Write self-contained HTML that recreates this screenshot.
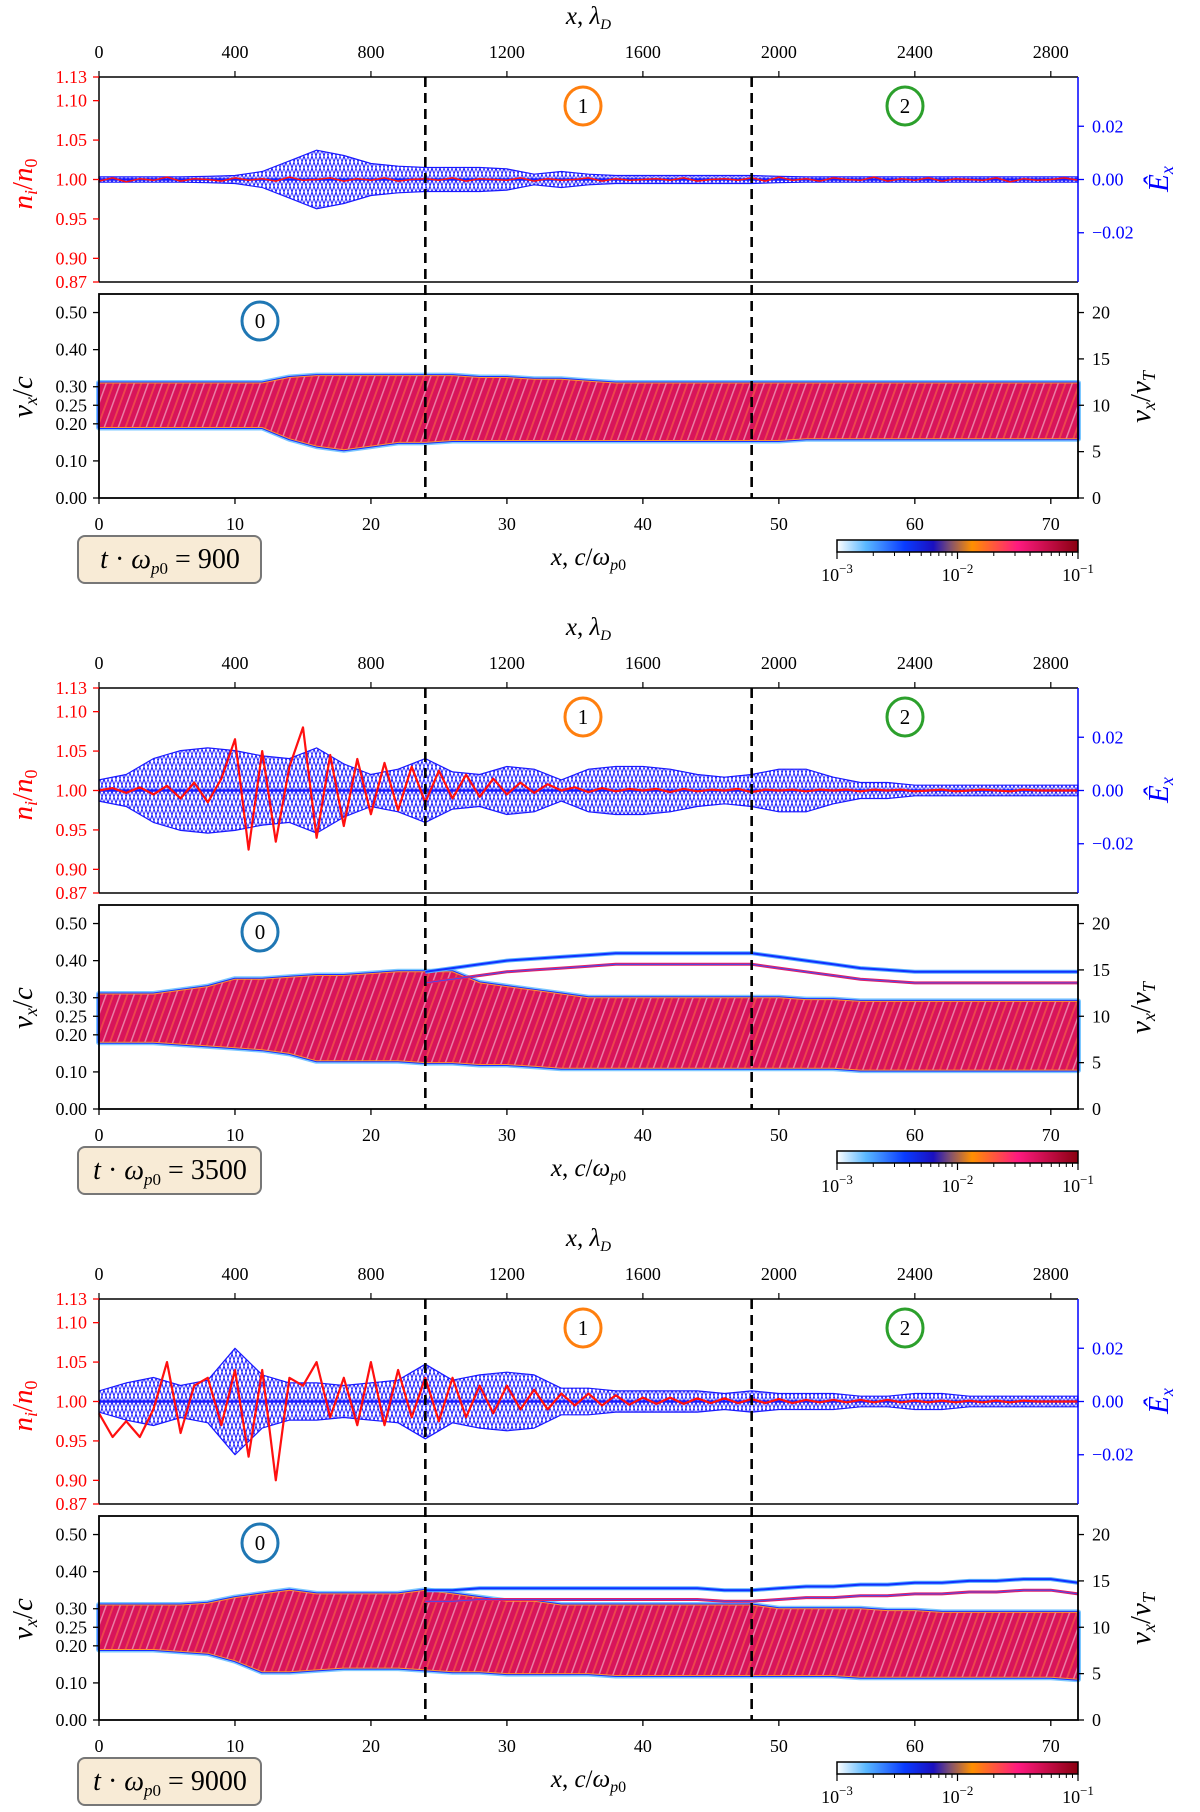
<!DOCTYPE html>
<html><head><meta charset="utf-8">
<style>
html,body{margin:0;padding:0;background:#fff;}
svg{display:block;}
text{font-family:"Liberation Serif",serif;}
</style></head>
<body>
<svg id="fig" width="1200" height="1812" viewBox="0 0 1200 1812" xmlns="http://www.w3.org/2000/svg">
<defs>
<linearGradient id="cmap" x1="0" x2="1" y1="0" y2="0">
<stop offset="0" stop-color="#ffffff"/><stop offset="0.12" stop-color="#5ab8ff"/><stop offset="0.28" stop-color="#0a3cff"/><stop offset="0.4" stop-color="#1a10c0"/><stop offset="0.47" stop-color="#805070"/><stop offset="0.56" stop-color="#ff9000"/><stop offset="0.75" stop-color="#ff1a80"/><stop offset="1" stop-color="#8a0010"/>
</linearGradient>
<pattern id="vort" width="14" height="40" patternUnits="userSpaceOnUse" patternTransform="skewX(-20)">
<rect width="14" height="40" fill="#d8145a"/>
<rect x="0" width="2" height="40" fill="#ff7a40" opacity="0.5"/>
<rect x="7" width="1.6" height="40" fill="#ffffff" opacity="0.45"/>
</pattern>
<pattern id="exfill" width="8" height="12" patternUnits="userSpaceOnUse">
<rect width="8" height="12" fill="#ffffff"/>
<path d="M0,0 L4,12 L8,0" fill="none" stroke="#1a1aff" stroke-width="1"/>
<path d="M0,12 L4,0 L8,12" fill="none" stroke="#1a1aff" stroke-width="0.8"/>
</pattern>
</defs>
</svg>
<script>
// ---------- data ----------
const xSamp = [0,2,4,6,8,10,12,14,16,18,20,22,24,26,28,30,32,34,36,38,40,42,44,46,48,50,52,54,56,58,60,62,64,66,68,70,72];
const xNi = [0,1,2,3,4,5,6,7,8,9,10,11,12,13,14,15,16,17,18,19,20,21,22,23,24,25,26,27,28,29,30,31,32,33,34,35,36,37,38,39,40,41,42,43,44,45,46,47,48,49,50,51,52,53,54,55,56,57,58,59,60,61,62,63,64,65,66,67,68,69,70,71,72];
const times = [900, 3500, 9000];
const xTicksBottom = [0,10,20,30,40,50,60,70];
const xTicksTop = [0,400,800,1200,1600,2000,2400,2800];
const niTicks = [0.87,0.90,0.95,1.00,1.05,1.10,1.13];
const exTicks = [-0.02,0.00,0.02];
const vTicks = [0.00,0.10,0.20,0.25,0.30,0.40,0.50];
const vtTicks = [0,5,10,15,20];
const dashX = [24,48];

const ex1 = [0.001,0.001,0.001,0.001,0.0012,0.0015,0.003,0.007,0.011,0.009,0.006,0.005,0.0045,0.0045,0.0045,0.004,0.002,0.003,0.002,0.0015,0.0015,0.0015,0.0015,0.0015,0.0015,0.0012,0.001,0.001,0.001,0.001,0.001,0.001,0.001,0.001,0.001,0.001,0.001];
const ex2 = [0.004,0.006,0.012,0.015,0.016,0.015,0.013,0.012,0.016,0.01,0.006,0.008,0.012,0.007,0.006,0.009,0.008,0.004,0.008,0.009,0.009,0.008,0.006,0.005,0.006,0.008,0.008,0.005,0.003,0.003,0.002,0.002,0.002,0.002,0.002,0.002,0.002];
const ex3 = [0.004,0.007,0.009,0.006,0.008,0.02,0.01,0.007,0.007,0.006,0.007,0.008,0.014,0.008,0.01,0.011,0.01,0.005,0.005,0.004,0.004,0.004,0.004,0.003,0.004,0.003,0.003,0.003,0.002,0.002,0.003,0.003,0.002,0.002,0.002,0.002,0.002];

const ni1 = [0.998,1.002,0.997,1.001,0.999,1.003,0.998,1.001,1.0,0.998,1.002,0.999,1.001,0.998,1.003,0.999,1.0,1.002,0.998,1.001,0.999,1.002,0.998,1.0,1.001,0.999,1.002,0.998,1.001,1.0,0.999,1.002,0.998,1.001,0.999,1.0,1.002,0.998,1.001,0.999,1.0,1.001,0.999,1.002,0.998,1.0,1.001,0.999,1.002,0.998,1.003,0.999,1.001,0.998,1.002,1.0,0.999,1.003,0.998,1.001,0.999,1.002,0.998,1.001,1.0,0.999,1.002,0.997,1.001,0.999,1.0,1.002,0.999];
const ni2 = [1.0,1.003,0.997,1.004,0.995,1.006,0.99,1.01,0.985,1.015,1.065,0.925,1.05,0.935,1.03,1.08,0.94,1.045,0.955,1.04,0.97,1.035,0.975,1.03,0.985,1.025,0.99,1.02,0.992,1.015,0.995,1.01,0.997,1.008,1.0,1.004,0.998,1.003,0.999,1.002,1.0,1.002,0.998,1.002,0.999,1.001,1.0,1.002,0.998,1.001,1.0,1.001,0.999,1.001,1.0,1.001,0.999,1.001,1.0,1.001,0.999,1.0,1.001,0.999,1.0,1.001,1.0,0.999,1.001,1.0,1.0,1.0,1.0];
const ni3 = [0.985,0.955,0.975,0.955,0.99,1.05,0.96,1.02,1.03,0.97,1.04,0.93,1.04,0.90,1.03,1.02,1.05,0.98,1.03,0.97,1.05,0.97,1.04,0.98,1.03,0.975,1.03,0.98,1.02,0.985,1.02,0.99,1.015,0.99,1.01,0.995,1.01,0.995,1.008,0.996,1.005,0.997,1.005,0.997,1.004,0.998,1.004,0.998,1.003,0.998,1.003,0.998,1.002,0.999,1.002,0.999,1.002,0.999,1.002,0.999,1.001,0.999,1.001,0.999,1.001,0.999,1.001,0.999,1.001,1.0,1.0,1.0,1.0];

const vTop1 = [0.31,0.31,0.31,0.31,0.31,0.31,0.31,0.325,0.33,0.33,0.33,0.33,0.33,0.33,0.325,0.325,0.32,0.32,0.315,0.31,0.31,0.31,0.31,0.31,0.31,0.31,0.31,0.31,0.31,0.31,0.31,0.31,0.31,0.31,0.31,0.31,0.31];
const vBot1 = [0.19,0.19,0.19,0.19,0.19,0.19,0.19,0.16,0.14,0.13,0.14,0.15,0.15,0.155,0.155,0.155,0.155,0.155,0.155,0.155,0.155,0.155,0.155,0.155,0.155,0.155,0.16,0.16,0.16,0.16,0.16,0.16,0.16,0.16,0.16,0.16,0.16];
const vTop2 = [0.31,0.31,0.31,0.32,0.33,0.35,0.35,0.355,0.36,0.36,0.365,0.37,0.37,0.37,0.34,0.33,0.32,0.31,0.30,0.30,0.30,0.30,0.30,0.30,0.30,0.30,0.295,0.295,0.29,0.29,0.29,0.29,0.29,0.29,0.29,0.29,0.29];
const vBot2 = [0.18,0.18,0.18,0.175,0.17,0.165,0.16,0.15,0.13,0.13,0.13,0.13,0.125,0.125,0.12,0.12,0.115,0.11,0.11,0.11,0.11,0.11,0.11,0.11,0.11,0.11,0.11,0.11,0.105,0.105,0.105,0.105,0.105,0.105,0.105,0.105,0.105];
const vTop3 = [0.31,0.31,0.31,0.31,0.315,0.33,0.34,0.35,0.34,0.34,0.34,0.34,0.35,0.34,0.33,0.32,0.32,0.31,0.31,0.31,0.31,0.31,0.31,0.31,0.31,0.30,0.30,0.30,0.30,0.295,0.295,0.29,0.29,0.29,0.29,0.29,0.29];
const vBot3 = [0.19,0.19,0.19,0.185,0.18,0.16,0.13,0.13,0.135,0.14,0.14,0.14,0.135,0.13,0.13,0.125,0.125,0.125,0.125,0.12,0.12,0.12,0.12,0.12,0.12,0.12,0.12,0.12,0.115,0.115,0.115,0.115,0.115,0.115,0.115,0.115,0.11];
const fil1 = [null,null,null,null,null,null,null,null,null,null,null,null,null,null,null,null,null,null,null,null,null,null,null,null,null,null,null,null,null,null,null,null,null,null,null,null,null];
const fil2 = [null,null,null,null,null,null,null,null,null,null,null,null,0.37,0.38,0.39,0.40,0.405,0.41,0.415,0.42,0.42,0.42,0.42,0.42,0.42,0.41,0.40,0.39,0.38,0.375,0.37,0.37,0.37,0.37,0.37,0.37,0.37];
const fil3 = [null,null,null,null,null,null,null,null,null,null,null,null,0.35,0.35,0.355,0.355,0.355,0.355,0.355,0.355,0.355,0.355,0.355,0.35,0.35,0.355,0.36,0.36,0.365,0.365,0.37,0.37,0.375,0.375,0.38,0.38,0.37];

const panels = [
 {ex:ex1, ni:ni1, vt:vTop1, vb:vBot1, fil:fil1},
 {ex:ex2, ni:ni2, vt:vTop2, vb:vBot2, fil:fil2},
 {ex:ex3, ni:ni3, vt:vTop3, vb:vBot3, fil:fil3}
];

// ---------- geometry ----------
const L=99, R=1078, T1=77, B1=282, T2=294, B2=498;
const offs=[0,611,1222];
const NS="http://www.w3.org/2000/svg";
const svg=document.getElementById('fig');
function el(tag, attrs, parent){const e=document.createElementNS(NS,tag);for(const k in attrs)e.setAttribute(k,attrs[k]);(parent||svg).appendChild(e);return e;}
const sx = x => L + (x/72)*(R-L);
const sxD = d => sx(d/40);
const sNi = v => B1 - (v-0.87)/(1.13-0.87)*(B1-T1);
const sEx = v => (T1+B1)/2 - v/0.0385*((B1-T1)/2);
const sV = v => B2 - v/0.55*(B2-T2);
const sVT = v => sV(v/40);

function txt(parent, x, y, s, opts){
  const t=el('text',{x:x,y:y,'font-size':opts.size||19,'text-anchor':opts.anchor||'middle',fill:opts.fill||'#000'},parent);
  if(opts.italic) t.setAttribute('font-style','italic');
  if(opts.rot) t.setAttribute('transform','rotate('+opts.rot+' '+x+' '+y+')');
  t.innerHTML=s; return t;
}

panels.forEach((P,pi)=>{
  const g=el('g',{transform:'translate(0,'+offs[pi]+')'});
  
  

  const tl=txt(g,(L+R)/2,24,'<tspan font-style="italic">x</tspan>, <tspan font-style="italic">λ</tspan><tspan font-size="15" font-style="italic" dy="5">D</tspan>',{size:25});
  
  
  xTicksTop.forEach(d=>{
    el('line',{x1:sxD(d),x2:sxD(d),y1:T1,y2:T1-6,stroke:'#000','stroke-width':1.2},g);
    const t=txt(g,sxD(d),58,d,{size:18});
    
    
  });

  const fp=el('g',{},g);
  
  
  let up='',dn='';
  xSamp.forEach((x,i)=>{up+=(i?'L':'M')+sx(x).toFixed(1)+','+sEx(P.ex[i]).toFixed(1);});
  for(let i=xSamp.length-1;i>=0;i--){dn+='L'+sx(xSamp[i]).toFixed(1)+','+sEx(-P.ex[i]).toFixed(1);}
  const exP=el('path',{d:up+dn+'Z',fill:'url(#exfill)',stroke:'#1a1aff','stroke-width':1.2,'stroke-linejoin':'round'},fp);
  
  
  el('line',{x1:L,x2:R,y1:sEx(0),y2:sEx(0),stroke:'#1a1aff','stroke-width':2.5},fp);
  let nd='';
  xNi.forEach((x,i)=>{nd+=(i?'L':'M')+sx(x).toFixed(1)+','+sNi(P.ni[i]).toFixed(1);});
  const niP=el('path',{d:nd,fill:'none',stroke:'#ff1010','stroke-width':pi==0?1.5:2.2,'stroke-linejoin':'round'},fp);
  
  

  el('line',{x1:L,x2:R,y1:T1,y2:T1,stroke:'#000','stroke-width':1.5},g);
  el('line',{x1:L,x2:R,y1:B1,y2:B1,stroke:'#000','stroke-width':1.5},g);
  el('line',{x1:L,x2:L,y1:T1,y2:B1,stroke:'#000','stroke-width':1.5},g);
  el('line',{x1:R,x2:R,y1:T1,y2:B1,stroke:'#0000ff','stroke-width':1.5},g);
  niTicks.forEach(v=>{
    el('line',{x1:L,x2:L-6,y1:sNi(v),y2:sNi(v),stroke:'#ff0000','stroke-width':1.3},g);
    const t=txt(g,L-12,sNi(v)+6,v.toFixed(2),{size:18,anchor:'end',fill:'#ff0000'});
    
    
  });
  exTicks.forEach(v=>{
    el('line',{x1:R,x2:R+6,y1:sEx(v),y2:sEx(v),stroke:'#0000ff','stroke-width':1.3},g);
    const t=txt(g,R+14,sEx(v)+6,(v<0?'−':'')+Math.abs(v).toFixed(2),{size:18,anchor:'start',fill:'#0000ff'});
    
    
  });
  const yl=txt(g,32,184,'<tspan font-style="italic">n</tspan><tspan font-size="18" font-style="italic" dy="5">i</tspan><tspan dy="-5">/</tspan><tspan font-style="italic">n</tspan><tspan font-size="18" dy="5">0</tspan>',{size:29,fill:'#ff0000',rot:-90});
  
  
  const yr=txt(g,1168,179,'<tspan font-style="italic">Ê</tspan><tspan font-size="18" font-style="italic" dy="5">x</tspan>',{size:29,fill:'#0000ff',rot:-90});
  
  

  [[583,106,'1','#ff7f0e','region-1-marker'],[905,106,'2','#2ca02c','region-2-marker']].forEach(m=>{
    const c=el('ellipse',{cx:m[0],cy:m[1],rx:18,ry:19,fill:'#fff',stroke:m[3],'stroke-width':3},g);
    
    
    txt(g,m[0],m[1]+7,m[2],{size:21});
  });

  const ps=el('g',{},g);
  
  
  let bu='',bd='';
  xSamp.forEach((x,i)=>{bu+=(i?'L':'M')+sx(x).toFixed(1)+','+sV(P.vt[i]).toFixed(1);});
  for(let i=xSamp.length-1;i>=0;i--){bd+='L'+sx(xSamp[i]).toFixed(1)+','+sV(P.vb[i]).toFixed(1);}
  el('path',{d:bu+bd+'Z',fill:'#7cc8ff',stroke:'#7cc8ff','stroke-width':6,'stroke-linejoin':'round'},ps);
  el('path',{d:bu+bd+'Z',fill:'#1a30ff',stroke:'#1a30ff','stroke-width':3,'stroke-linejoin':'round'},ps);
  el('path',{d:bu+bd+'Z',fill:'#ff9030',stroke:'none'},ps);
  const band=el('path',{d:bu+bd+'Z',fill:'url(#vort)',stroke:'#ff9030','stroke-width':1},ps);
  
  
  let cu='',cd='';
  xSamp.forEach((x,i)=>{cu+=(i?'L':'M')+sx(x).toFixed(1)+','+(sV(P.vt[i])+5).toFixed(1);});
  for(let i=xSamp.length-1;i>=0;i--){cd+='L'+sx(xSamp[i]).toFixed(1)+','+(sV(P.vb[i])-3).toFixed(1);}
  el('path',{d:cu+cd+'Z',fill:'url(#vort)'},ps);
  let fd='',fd2='';let started=false;
  xSamp.forEach((x,i)=>{ if(P.fil[i]!==null){fd+=(started?'L':'M')+sx(x).toFixed(1)+','+sV(P.fil[i]).toFixed(1);fd2+=(started?'L':'M')+sx(x).toFixed(1)+','+sV(P.fil[i]-0.03).toFixed(1);started=true;} });
  if(fd){
    el('path',{d:fd,fill:'none',stroke:'#5ab0ff','stroke-width':4},ps);
    const f=el('path',{d:fd,fill:'none',stroke:'#1030ff','stroke-width':2},ps);
    
    
    el('path',{d:fd2,fill:'none',stroke:'#e0206a','stroke-width':3},ps);
    el('path',{d:fd2,fill:'none',stroke:'#3050ff','stroke-width':0.8},ps);
  }

  el('rect',{x:L,y:T2,width:R-L,height:B2-T2,fill:'none',stroke:'#000','stroke-width':1.8},g);
  vTicks.forEach(v=>{
    el('line',{x1:L,x2:L-6,y1:sV(v),y2:sV(v),stroke:'#000','stroke-width':1.3},g);
    const t=txt(g,L-12,sV(v)+6,v.toFixed(2),{size:18,anchor:'end'});
    
    
  });
  vtTicks.forEach(v=>{
    el('line',{x1:R,x2:R+6,y1:sVT(v),y2:sVT(v),stroke:'#000','stroke-width':1.3},g);
    const t=txt(g,R+14,sVT(v)+6,v,{size:18,anchor:'start'});
    
    
  });
  xTicksBottom.forEach(x=>{
    el('line',{x1:sx(x),x2:sx(x),y1:B2,y2:B2+6,stroke:'#000','stroke-width':1.3},g);
    const t=txt(g,sx(x),530,x,{size:18});
    
    
  });
  const vl=txt(g,32,397,'<tspan font-style="italic">v</tspan><tspan font-size="18" font-style="italic" dy="5">x</tspan><tspan dy="-5">/</tspan><tspan font-style="italic">c</tspan>',{size:29,rot:-90});
  
  
  const vr=txt(g,1150,397,'<tspan font-style="italic">v</tspan><tspan font-size="18" font-style="italic" dy="5">x</tspan><tspan dy="-5">/</tspan><tspan font-style="italic">v</tspan><tspan font-size="18" font-style="italic" dy="5">T</tspan>',{size:29,rot:-90});
  
  
  const xl=txt(g,(L+R)/2,565,'<tspan font-style="italic">x</tspan>, <tspan font-style="italic">c</tspan>/<tspan font-style="italic">ω</tspan><tspan font-size="16" font-style="italic" dy="5">p</tspan><tspan font-size="16" dy="0">0</tspan>',{size:25});
  
  

  const c0=el('ellipse',{cx:260,cy:321,rx:18,ry:19,fill:'#fff',stroke:'#1f77b4','stroke-width':3},g);
  
  
  txt(g,260,328,'0',{size:21});

  dashX.forEach(x=>{
    const d=el('line',{x1:sx(x),x2:sx(x),y1:T1,y2:B2,stroke:'#000','stroke-width':2.6,'stroke-dasharray':'10,6'},g);
    
    
  });

  const tb=el('rect',{x:78,y:536,width:183,height:47,rx:7,fill:'#f8ebd6',stroke:'#777','stroke-width':2},g);
  
  
  txt(g,170,568,'<tspan font-style="italic">t</tspan> · <tspan font-style="italic">ω</tspan><tspan font-size="17" font-style="italic" dy="6">p</tspan><tspan font-size="17">0</tspan><tspan dy="-6"> = '+times[pi]+'</tspan>',{size:28});

  const cb=el('rect',{x:837,y:540,width:R-837,height:12,fill:'url(#cmap)',stroke:'#000','stroke-width':1.5},g);
  
  
  const cbw=R-837;
  [0,1,2].forEach(k=>{
    const x=837+k*cbw/2;
    el('line',{x1:x,x2:x,y1:552,y2:559,stroke:'#000','stroke-width':1.2},g);
    const t=txt(g,x,581,'10<tspan font-size="13" dy="-8">−'+(3-k)+'</tspan>',{size:18});
    
    
    if(k<2){for(let m=2;m<10;m++){const xm=x+Math.log10(m)*cbw/2;el('line',{x1:xm,x2:xm,y1:552,y2:556,stroke:'#000','stroke-width':1},g);}}
  });
});
</script>
</body></html>
